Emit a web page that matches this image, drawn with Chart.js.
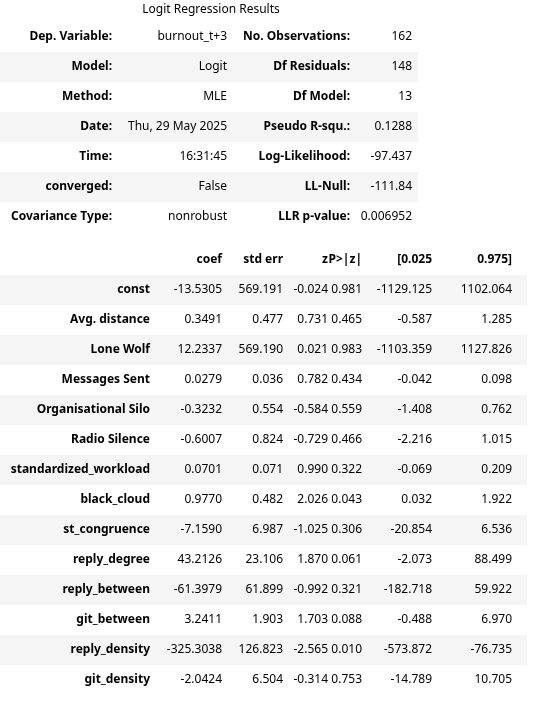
<!DOCTYPE html>
<html lang="en">
<head>
<meta charset="UTF-8">
<title>Logit Regression Results</title>
<script src="https://cdn.jsdelivr.net/npm/chart.js"></script>
<style>
  html, body { margin: 0; padding: 0; background: #fff; }
  #wrap { width: 553px; height: 704px; }
</style>
</head>
<body>
<div id="wrap"><canvas id="tbl"></canvas></div>
<script>
const title = 'Logit Regression Results';
const topLabelsLeft = ['Dep. Variable:', 'Model:', 'Method:', 'Date:', 'Time:', 'converged:', 'Covariance Type:'];
const topValuesLeft = ['burnout_t+3', 'Logit', 'MLE', 'Thu, 29 May 2025', '16:31:45', 'False', 'nonrobust'];
const topLabelsRight = ['No. Observations:', 'Df Residuals:', 'Df Model:', 'Pseudo R-squ.:', 'Log-Likelihood:', 'LL-Null:', 'LLR p-value:'];
const topValuesRight = ['162', '148', '13', '0.1288', '-97.437', '-111.84', '0.006952'];

const headers = ['coef', 'std err', 'z', 'P>|z|', '[0.025', '0.975]'];
const varNames = ['const', 'Avg. distance', 'Lone Wolf', 'Messages Sent', 'Organisational Silo', 'Radio Silence',
  'standardized_workload', 'black_cloud', 'st_congruence', 'reply_degree', 'reply_between', 'git_between',
  'reply_density', 'git_density'];
const coef = [-13.5305, 0.3491, 12.2337, 0.0279, -0.3232, -0.6007, 0.0701, 0.9770, -7.1590, 43.2126, -61.3979, 3.2411, -325.3038, -2.0424];
const stdErr = [569.191, 0.477, 569.190, 0.036, 0.554, 0.824, 0.071, 0.482, 6.987, 23.106, 61.899, 1.903, 126.823, 6.504];
const zVals = [-0.024, 0.731, 0.021, 0.782, -0.584, -0.729, 0.990, 2.026, -1.025, 1.870, -0.992, 1.703, -2.565, -0.314];
const pVals = [0.981, 0.465, 0.983, 0.434, 0.559, 0.466, 0.322, 0.043, 0.306, 0.061, 0.321, 0.088, 0.010, 0.753];
const ciLow = [-1129.125, -0.587, -1103.359, -0.042, -1.408, -2.216, -0.069, 0.032, -20.854, -2.073, -182.718, -0.488, -573.872, -14.789];
const ciHigh = [1102.064, 1.285, 1127.826, 0.098, 0.762, 1.015, 0.209, 1.922, 6.536, 88.499, 59.922, 6.970, -76.735, 10.705];

// layout (pixel units on the hidden linear scales)
const rowH = 30;
const topY0 = 37, topRight = [112, 227, 350, 412], topWidth = 418;
const headY = 260, botY0 = 290, botRight = [150, 222, 283, 328, 362, 432, 512], botWidth = 527;
const font = '12px "Noto Sans", "Open Sans", sans-serif';
const bold = 'bold 12px "Noto Sans", "Open Sans", sans-serif';

const tablePlugin = {
  id: 'tablePlugin',
  afterDraw(chart) {
    const { ctx, scales: { x, y } } = chart;
    const px = v => x.getPixelForValue(v);
    const py = v => y.getPixelForValue(v);
    const stripe = (cy, w) => {
      ctx.fillStyle = '#f5f5f5';
      ctx.fillRect(px(0), py(cy - rowH / 2), px(w) - px(0), py(cy + rowH / 2) - py(cy - rowH / 2));
    };
    const text = (s, right, cy, f) => {
      ctx.font = f;
      ctx.fillText(s, px(right), py(cy));
    };
    ctx.save();
    ctx.textBaseline = 'middle';
    ctx.fillStyle = '#000';
    ctx.textAlign = 'center';
    ctx.font = font;
    ctx.fillText(title, px(211), py(10));

    topLabelsLeft.forEach((lab, i) => {
      const cy = topY0 + i * rowH;
      if (i % 2 === 1) stripe(cy, topWidth);
      ctx.fillStyle = '#000';
      ctx.textAlign = 'right';
      text(lab, topRight[0], cy, bold);
      text(topValuesLeft[i], topRight[1], cy, font);
      text(topLabelsRight[i], topRight[2], cy, bold);
      text(topValuesRight[i], topRight[3], cy, font);
    });

    ctx.textAlign = 'right';
    headers.forEach((h, j) => text(h, botRight[j + 1], headY, bold));

    varNames.forEach((name, i) => {
      const cy = botY0 + i * rowH;
      if (i % 2 === 0) stripe(cy, botWidth);
      ctx.fillStyle = '#000';
      ctx.textAlign = 'right';
      text(name, botRight[0], cy, bold);
      const cells = [coef[i].toFixed(4), stdErr[i].toFixed(3), zVals[i].toFixed(3), pVals[i].toFixed(3),
        ciLow[i].toFixed(3), ciHigh[i].toFixed(3)];
      cells.forEach((c, j) => text(c, botRight[j + 1], cy, font));
    });
    ctx.restore();
  }
};

new Chart(document.getElementById('tbl'), {
  type: 'scatter',
  data: { datasets: [{ data: [] }] },
  options: {
    responsive: true,
    maintainAspectRatio: false,
    animation: false,
    layout: { padding: 0 },
    plugins: { legend: { display: false }, tooltip: { enabled: false } },
    scales: {
      x: { type: 'linear', min: 0, max: 553, display: false },
      y: { type: 'linear', min: 0, max: 704, reverse: true, display: false }
    }
  },
  plugins: [tablePlugin]
});
</script>
</body>
</html>
